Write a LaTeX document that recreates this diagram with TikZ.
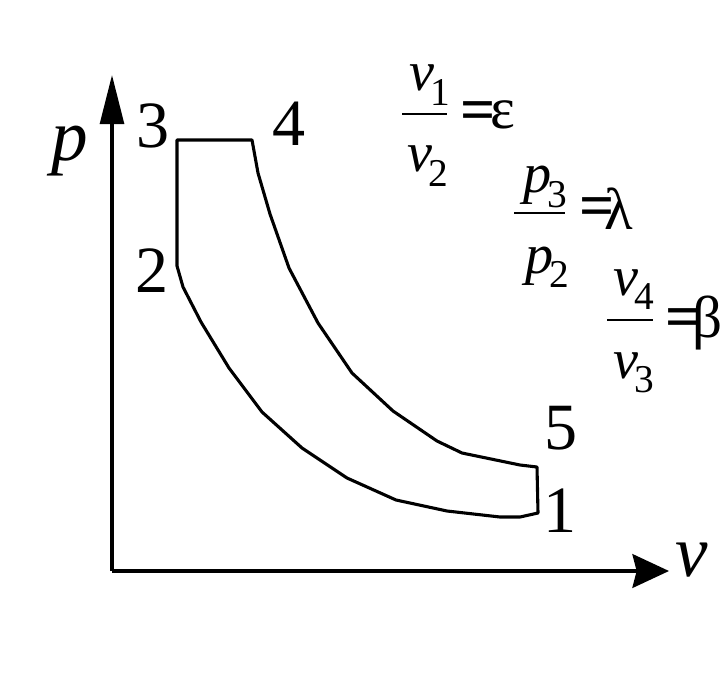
\documentclass[tikz,border=0pt]{standalone}
\usepackage{fontspec}
\setmainfont{Liberation Serif}
\usetikzlibrary{arrows.meta}
\newcommand\lowsub[1]{\kern-3pt\raisebox{-10pt}{\fontsize{28}{28}\selectfont\upshape #1}}

\begin{document}
\begin{tikzpicture}[x=0.025cm, y=-0.025cm,
  curve/.style={line width=2.2pt, line join=round},
  axis/.style={line width=2.4pt},
  num/.style={font=\fontsize{47}{47}\selectfont, inner sep=0pt},
  var/.style={font=\fontsize{52}{52}\selectfont\itshape, inner sep=0pt},
  frac/.style={font=\fontsize{40}{40}\selectfont\itshape, inner sep=0pt, anchor=base west},
  greek/.style={font=\fontsize{42}{42}\selectfont, inner sep=0pt, anchor=base west},
  eqsign/.style={font=\fontsize{44}{44}\selectfont\bfseries, inner sep=0pt, anchor=base west},
  bar/.style={line width=1.2pt}]

\useasboundingbox (0,0) rectangle (720,694);

\coordinate (O) at (112,571);
\coordinate (ptip) at (112,75);
\coordinate (vtip) at (669,571);
\coordinate (x1) at (538,513);
\coordinate (x2) at (177,266);
\coordinate (x3) at (177,140);
\coordinate (x4) at (252,140);
\coordinate (x5) at (537,467);

% the cycle 1-5-4-3-2
\draw[curve] (x1) -- (x5) -- (520,465) -- (462,453) -- (437,441) -- (393,411)
  -- (352,373) -- (318,323) -- (289,268) -- (270,214) -- (258,173) -- (x4)
  -- (x3) -- (x2) -- (183,287) -- (201,322) -- (229,368) -- (262,412)
  -- (302,448) -- (347,478) -- (396,500) -- (447,511) -- (500,517)
  -- (520,517) -- cycle;

\draw[axis, -{Triangle[length=35pt, width=17pt]}] (O) -- (ptip);
\draw[axis, -{Stealth[length=26pt, width=24pt, inset=3pt]}] (O) -- (vtip);

\node[var] (p) at (70,151) {p};
\node[var] (v) at (692,560) {v};
\node[num] (n1) at (560,511) {1};
\node[num] (n2) at (152,271) {2};
\node[num] (n3) at (153,126) {3};
\node[num] (n4) at (289,124) {4};
\node[num] (n5) at (561,428) {5};

% v1/v2
\node[frac] (v1) at (409,91) {v\lowsub{1}};
\coordinate (b1w) at (402,114);
\coordinate (b1e) at (447,114);
\draw[bar] (b1w) -- (b1e);
\node[frac] (v2) at (407,172) {v\lowsub{2}};
\node[eqsign] (eq1) at (460,131) {=};
\node[greek] (eps) at (490,129) {ε};

% p3/p2
\node[frac] (p3) at (523,193) {p\lowsub{3}};
\coordinate (b2w) at (514,213);
\coordinate (b2e) at (565,213);
\draw[bar] (b2w) -- (b2e);
\node[frac] (p2) at (525,273) {p\lowsub{2}};
\node[eqsign] (eq2) at (579,227) {=};
\node[greek] (lam) at (604,230) {λ};

% v4/v3
\node[frac] (v4) at (613,295) {v\lowsub{4}};
\coordinate (b3w) at (607,320);
\coordinate (b3e) at (653,320);
\draw[bar] (b3w) -- (b3e);
\node[frac] (v3) at (613,378) {v\lowsub{3}};
\node[eqsign] (eq3) at (665,337) {=};
\node[greek] (bet) at (692,337) {β};
\end{tikzpicture}
\end{document}
